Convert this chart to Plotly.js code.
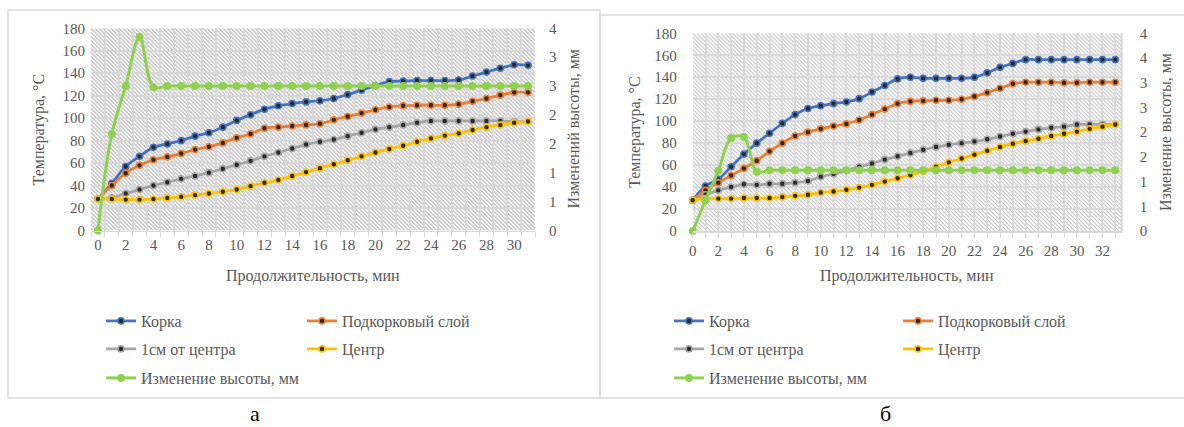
<!DOCTYPE html>
<html><head><meta charset="utf-8">
<script src="https://cdn.plot.ly/plotly-3.0.1.min.js"></script>
<style>html,body{margin:0;padding:0;background:#fff;}#chart{width:1184px;height:427px;}</style>
</head><body><div id="chart"></div>
<script>
// ---------- DATA ----------
// Panel "а"
const minutesA = [0,1,2,3,4,5,6,7,8,9,10,11,12,13,14,15,16,17,18,19,20,21,22,23,24,25,26,27,28,29,30,31];
const korkaA   = [28,42,57,66,74,77,80,84,87,92,98,103,108,111,113,114.5,115.5,117.5,121,125,129,132.5,133,133.5,133.5,133.5,134,137.5,141,144.5,147.5,147];
const podkA    = [28,40,51,58,63,65.5,68.5,72,74.5,78,82.5,86,91,92,93,94,95,98.5,101.5,104.5,107.5,110,111,111.5,111.5,111.5,112.5,115,117.5,120.5,123,123];
const cm1A     = [28,29,33,36.5,40,43,46,48.5,51.5,55,58.5,62,66,69.5,73,76.5,79,81,84,87,90,92,94,96,97.5,97.5,97.5,97.5,97.5,97.5,97,97];
const centrA   = [28,28,27.5,27.5,28,29,30,31.5,33,34.5,36.5,39.5,42.5,45,48.5,52,55.5,59,62.5,66,69.5,72.5,75.5,79,82,84.5,86.5,89.5,92,94,96,97];
const heightA  = [0,1.67,2.5,3.35,2.48,2.5,2.5,2.5,2.5,2.5,2.5,2.5,2.5,2.5,2.5,2.5,2.5,2.5,2.5,2.5,2.5,2.5,2.5,2.5,2.5,2.5,2.5,2.5,2.5,2.5,2.5,2.5];
// Panel "б"
const minutesB = [0,1,2,3,4,5,6,7,8,9,10,11,12,13,14,15,16,17,18,19,20,21,22,23,24,25,26,27,28,29,30,31,32,33];
const korkaB   = [28,41,47,58.5,70,80,89,98,106,111.5,114,116,117.5,120.5,126.5,132.5,138.5,140,139,139,139,139,140,144,149,152.5,156,156,156,156,156,156,156,156];
const podkB    = [28,37,44,50.5,57,64,72.5,80,86.5,90,93,95.5,97.5,101,106,111,116,118,118.5,119,119,120,122.5,126,130,134,135.5,135.5,135.5,135,135,135.5,135.5,135.5];
const cm1B     = [28,33,37,40,42.5,42,43,43,44,45.5,49.5,52,55,58.5,61.5,65,68,71,74,76.5,78.5,80,81.5,83.5,86,88.5,90.5,92.5,94,95,97,97,97,97];
const centrB   = [28,29.5,29.5,29.5,30,30,30,31,32,33,35,36,37.5,39.5,42,45,48,51,54.5,58.5,62.5,66,69.5,73,76.5,79.5,82,84,86.5,88.5,90.5,93,95,97];
const heightB  = [0,0.62,1.22,1.88,1.9,1.2,1.23,1.23,1.23,1.23,1.23,1.23,1.23,1.23,1.23,1.23,1.23,1.23,1.23,1.23,1.23,1.23,1.23,1.23,1.23,1.23,1.23,1.23,1.23,1.23,1.23,1.23,1.23,1.23];
// Tick labels
const tempTicks      = [0,20,40,60,80,100,120,140,160,180];
const heightTicksA   = [0,0.5,1,1.5,2,2.5,3,3.5];
const heightLabelsA  = ['0','1','1','2','2','3','3','4'];
const heightTicksB   = [0,0.5,1,1.5,2,2.5,3,3.5,4];
const heightLabelsB  = ['0','1','1','2','2','3','3','4','4'];
// Names / texts
const seriesNames = ['Корка','Подкорковый слой','1см от центра','Центр','Изменение высоты, мм'];
const seriesColors = ['#4472C4','#ED7D31','#A5A5A5','#FFC000','#8FD14F'];
const yTitle = 'Температура, °С';
const y2TitleA = 'Изменений высоты, мм';
const y2TitleB = 'Изменение высоты, мм';
const xTitle = 'Продолжительность, мин';
const panelLabels = ['а','б'];

// ---------- HELPERS ----------
const W = 1184, H = 427;
const fx = p => p / W, fy = p => 1 - p / H;
const FONT = 'Liberation Serif, Times New Roman, serif';
const TXT = '#595959';
const GRID = '#d9d9d9';

function tempTrace(x, y, i, xa, ya, lg) {
  return {type:'scatter', mode:'lines+markers', x:x, y:y, name:seriesNames[i], xaxis:xa, yaxis:ya, legend:lg,
    line:{color:seriesColors[i], width:2.75, shape:'spline', smoothing:1},
    marker:{size:6, color:'#2a2a2a', line:{color:seriesColors[i], width:1.6}},
    cliponaxis:false, hoverinfo:'skip'};
}
function heightTrace(x, y, xa, ya, lg) {
  return {type:'scatter', mode:'lines+markers', x:x, y:y, name:seriesNames[4], xaxis:xa, yaxis:ya, legend:lg,
    line:{color:seriesColors[4], width:3, shape:'spline', smoothing:1},
    marker:{size:8, color:seriesColors[4]}, cliponaxis:false, hoverinfo:'skip'};
}
function hatch(w, h) {
  const svg = '<svg xmlns="http://www.w3.org/2000/svg" width="'+w+'" height="'+h+'">' +
    '<defs><pattern id="p" width="4" height="4" patternUnits="userSpaceOnUse">' +
    '<rect width="4" height="4" fill="#f4f4f4"/>' +
    '<path d="M-1,-1 L5,5 M-1,3 L1,5 M3,-1 L5,1" stroke="#c0c0c0" stroke-width="1"/></pattern></defs>' +
    '<rect width="100%" height="100%" fill="url(#p)"/></svg>';
  return 'data:image/svg+xml;charset=utf-8,' + encodeURIComponent(svg);
}

const data = [
  tempTrace(minutesA, korkaA, 0, 'x', 'y', 'legend'),
  tempTrace(minutesA, podkA, 1, 'x', 'y', 'legend'),
  tempTrace(minutesA, cm1A, 2, 'x', 'y', 'legend2'),
  tempTrace(minutesA, centrA, 3, 'x', 'y', 'legend2'),
  heightTrace(minutesA, heightA, 'x', 'y2', 'legend3'),
  tempTrace(minutesB, korkaB, 0, 'x2', 'y3', 'legend4'),
  tempTrace(minutesB, podkB, 1, 'x2', 'y3', 'legend4'),
  tempTrace(minutesB, cm1B, 2, 'x2', 'y3', 'legend5'),
  tempTrace(minutesB, centrB, 3, 'x2', 'y3', 'legend5'),
  heightTrace(minutesB, heightB, 'x2', 'y4', 'legend6')
];

const tickFont = {family:FONT, size:15, color:TXT};
const legFont = {family:FONT, size:16, color:TXT};

function xAxis(dom, range, minorStart, yAnchor) {
  return {domain:dom, range:range, anchor:yAnchor, tickmode:'linear', tick0:0, dtick:2,
    showgrid: minorStart === 0, gridcolor:GRID, gridwidth:2, zeroline:false,
    showline:true, linecolor:GRID, linewidth:1.5, ticks: minorStart === 0 ? 'outside' : '', ticklen:5, tickcolor:GRID, tickwidth:1,
    minor:{tick0:minorStart, dtick:1, showgrid:true, gridcolor:GRID, gridwidth:2, ticks:'outside', ticklen:5, tickcolor:GRID, tickwidth:1},
    tickfont:tickFont, fixedrange:true};
}
function yLeft(dom, anchor, standoff) {
  return {domain:dom, anchor:anchor, range:[0,180], tickmode:'array', tickvals:tempTicks,
    showgrid:true, gridcolor:GRID, gridwidth:2, zeroline:false, showline:false, ticks:'',
    ticklabelstandoff:standoff, tickfont:tickFont, fixedrange:true};
}
function yRight(over, anchor, range, vals, labels, standoff) {
  return {overlaying:over, anchor:anchor, side:'right', range:range, tickmode:'array', tickvals:vals, ticktext:labels,
    showgrid:false, zeroline:false, showline:false, ticks:'', ticklabelstandoff:standoff, tickfont:tickFont, fixedrange:true};
}
function leg(xp, yp, ew) {
  return {x:fx(xp), xanchor:'left', y:fy(yp), yanchor:'middle', orientation:'h', entrywidth:ew, entrywidthmode:'pixels',
    font:legFont, bgcolor:'rgba(0,0,0,0)', borderwidth:0, itemclick:false, itemdoubleclick:false, tracegroupgap:0};
}
function ann(text, xp, yp, angle, size) {
  return {text:text, xref:'paper', yref:'paper', x:fx(xp), y:fy(yp), xanchor:'center', yanchor:'middle',
    showarrow:false, textangle:angle || 0, font:{family:FONT, size:size || 16, color: size ? '#000' : TXT}};
}

const domXA = [fx(91), fx(535)], domYA = [fy(230.5), fy(28.3)];
const domXB = [fx(692.7), fx(1121.7)], domYB = [fy(231), fy(33.3)];

const layout = {
  width:W, height:H, margin:{l:0, r:0, t:0, b:0}, paper_bgcolor:'#fff', plot_bgcolor:'rgba(0,0,0,0)',
  font:{family:FONT, color:TXT},
  xaxis: xAxis(domXA, [-0.5, 31.5], -0.5, 'y'),
  yaxis: yLeft(domYA, 'x', 5),
  yaxis2: yRight('y', 'x', [0, 3.5], heightTicksA, heightLabelsA, 13),
  xaxis2: xAxis(domXB, [0, 33.5], 0, 'y3'),
  yaxis3: yLeft(domYB, 'x2', 15),
  yaxis4: yRight('y3', 'x2', [0, 4], heightTicksB, heightLabelsB, 17),
  legend: leg(101, 321, 156),
  legend2: leg(101, 349, 156),
  legend3: leg(101, 378, 156),
  legend4: leg(669, 321, 184),
  legend5: leg(669, 349, 184),
  legend6: leg(669, 378, 184),
  images: [
    {source:hatch(444, 202), xref:'x domain', yref:'y domain', x:0, y:1, sizex:1, sizey:1, xanchor:'left', yanchor:'top', sizing:'stretch', layer:'below'},
    {source:hatch(429, 198), xref:'x2 domain', yref:'y3 domain', x:0, y:1, sizex:1, sizey:1, xanchor:'left', yanchor:'top', sizing:'stretch', layer:'below'}
  ],
  shapes: [
    {type:'rect', xref:'paper', yref:'paper', x0:fx(8), x1:fx(600), y0:fy(398), y1:fy(10), line:{color:GRID, width:1.5}, fillcolor:'rgba(0,0,0,0)', layer:'below'},
    {type:'rect', xref:'paper', yref:'paper', x0:fx(600), x1:fx(1200), y0:fy(398), y1:fy(15), line:{color:GRID, width:1.5}, fillcolor:'rgba(0,0,0,0)', layer:'below'},
    {type:'line', xref:'x2 domain', yref:'y3 domain', x0:1, x1:1, y0:0, y1:1, line:{color:GRID, width:2}}
  ],
  annotations: [
    ann(yTitle, 38, 129.5, -90),
    ann(y2TitleA, 573, 129.5, -90),
    ann(xTitle, 313, 276),
    ann(yTitle, 635, 132, -90),
    ann(y2TitleB, 1165, 132, -90),
    ann(xTitle, 907, 276),
    ann(panelLabels[0], 255, 413, 0, 22),
    ann(panelLabels[1], 885, 413, 0, 22)
  ]
};

Plotly.newPlot('chart', data, layout, {staticPlot:true, displayModeBar:false});
</script>
</body></html>
